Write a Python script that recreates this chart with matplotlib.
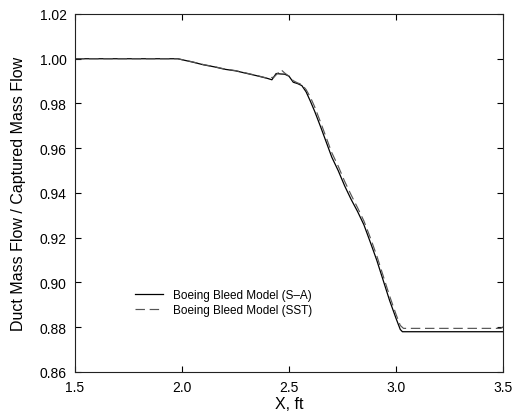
import matplotlib
matplotlib.use("Agg")
import matplotlib.pyplot as plt

# Boeing Bleed Model (S-A), solid
x_sa = [1.50, 1.98, 2.05, 2.10, 2.15, 2.20, 2.25, 2.30, 2.35, 2.40, 2.42,
        2.44, 2.46, 2.48, 2.50, 2.52, 2.54, 2.56, 2.58, 2.60, 2.62, 2.65,
        2.68, 2.70, 2.73, 2.76, 2.79, 2.82, 2.85, 2.88, 2.91, 2.94, 2.97,
        3.00, 3.02, 3.03, 3.50]
y_sa = [1.0000, 1.0000, 0.9985, 0.9973, 0.9964, 0.9953, 0.9946, 0.9935,
        0.9924, 0.9912, 0.9906, 0.9934, 0.9932, 0.9931, 0.9922, 0.9895,
        0.9889, 0.9880, 0.9852, 0.9810, 0.9765, 0.9690, 0.9612, 0.9560,
        0.9500, 0.9432, 0.9372, 0.9318, 0.9258, 0.9180, 0.9100, 0.9010,
        0.8920, 0.8840, 0.8790, 0.8780, 0.8780]

# Boeing Bleed Model (SST), dashed
x_sst = [1.50, 1.98, 2.05, 2.10, 2.15, 2.20, 2.25, 2.30, 2.35, 2.40, 2.43,
         2.463, 2.48, 2.50, 2.52, 2.54, 2.56, 2.58, 2.60, 2.62, 2.65, 2.68,
         2.70, 2.73, 2.76, 2.79, 2.82, 2.85, 2.88, 2.91, 2.94, 2.97, 3.00,
         3.02, 3.035, 3.49, 3.50]
y_sst = [1.0000, 1.0000, 0.9986, 0.9974, 0.9965, 0.9954, 0.9947, 0.9936,
         0.9925, 0.9913, 0.9918, 0.9951, 0.9936, 0.9922, 0.9902, 0.9892,
         0.9885, 0.9862, 0.9828, 0.9785, 0.9710, 0.9632, 0.9580, 0.9520,
         0.9452, 0.9392, 0.9335, 0.9275, 0.9200, 0.9120, 0.9030, 0.8940,
         0.8858, 0.8808, 0.8795, 0.8795, 0.8802]

x_ticks = [1.5, 2.0, 2.5, 3.0, 3.5]
y_ticks = [0.86, 0.88, 0.90, 0.92, 0.94, 0.96, 0.98, 1.00, 1.02]

plt.rcParams["font.family"] = ["Liberation Sans", "DejaVu Sans"]

fig = plt.figure(figsize=(5.15, 4.14), dpi=100)
ax = fig.add_axes([75 / 515, 1 - 373 / 414, 428 / 515, 358 / 414])

ax.plot(x_sa, y_sa, color="black", lw=0.9,
        label="Boeing Bleed Model (S\u2013A)")
ax.plot(x_sst, y_sst, color="#555555", lw=0.85, dashes=(8, 4),
        label="Boeing Bleed Model (SST)")

ax.set_xlim(1.5, 3.5)
ax.set_ylim(0.86, 1.02)
ax.set_xticks(x_ticks)
ax.set_xticklabels([f"{v:.1f}" for v in x_ticks])
ax.set_yticks(y_ticks)
ax.set_yticklabels([f"{v:.2f}" for v in y_ticks])
ax.tick_params(direction="in", top=True, right=True, length=4, width=0.8,
               labelsize=10, pad=6)
for s in ax.spines.values():
    s.set_linewidth(0.8)
    s.set_color("#222222")

ax.set_xlabel("X, ft", fontsize=11.5, labelpad=1)
ax.set_ylabel("Duct Mass Flow / Captured Mass Flow", fontsize=11.5,
              labelpad=10)

ax.legend(loc="upper left", bbox_to_anchor=(0.14, 0.232), frameon=False,
          fontsize=8.5, borderpad=0, borderaxespad=0, handlelength=2.4,
          handletextpad=0.85, labelspacing=0.27)

fig.savefig("out.png", dpi=100)
